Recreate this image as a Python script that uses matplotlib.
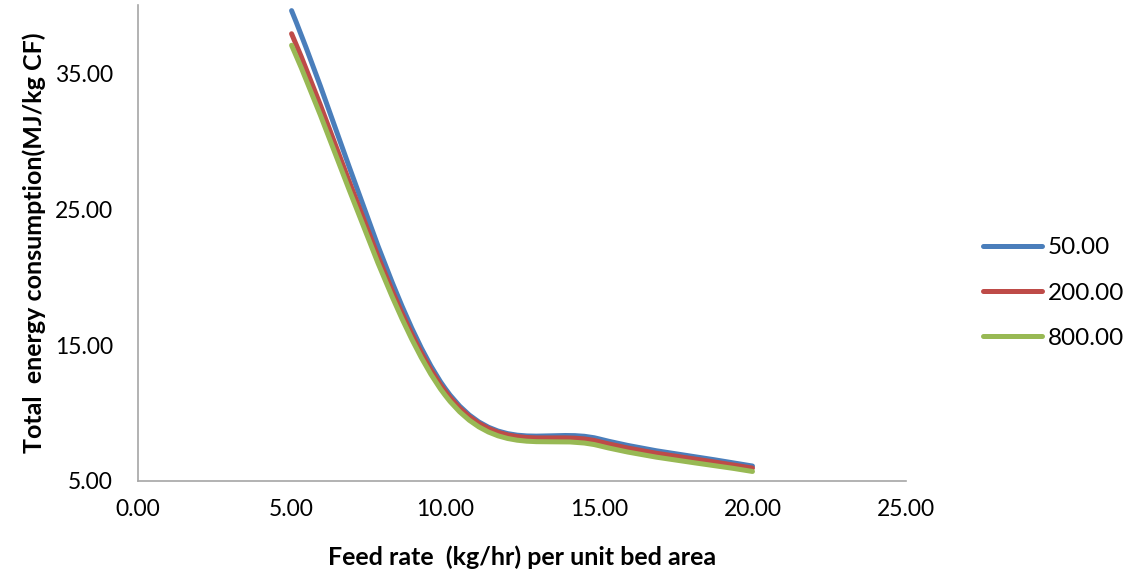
import matplotlib
matplotlib.use("Agg")
import matplotlib.pyplot as plt
from matplotlib.path import Path
from matplotlib.patches import PathPatch
import numpy as np

plt.rcParams['font.family'] = ['Lato', 'DejaVu Sans']

# data
feed_rate = [5.0, 10.0, 15.0, 20.0]
series_names = ["50.00", "200.00", "800.00"]
energy_50 = [39.6, 11.8, 8.1, 6.1]
energy_200 = [37.9, 11.6, 7.9, 5.95]
energy_800 = [37.05, 11.3, 7.6, 5.7]
colors = ["#4A7EBB", "#BE4B48", "#98B954"]

x_ticks = [0, 5, 10, 15, 20, 25]
y_ticks = [5, 15, 25, 35]


def smooth_path(xs, ys):
    # Excel style smoothed line: cubic bezier through the points
    p = np.column_stack([xs, ys]).astype(float)
    n = len(p)
    tang = np.zeros_like(p)
    tang[0] = p[1] - p[0]
    tang[-1] = p[-1] - p[-2]
    for i in range(1, n - 1):
        tang[i] = (p[i + 1] - p[i - 1]) / 2
    verts = [p[0]]
    codes = [Path.MOVETO]
    for i in range(n - 1):
        verts += [p[i] + tang[i] / 3, p[i + 1] - tang[i + 1] / 3, p[i + 1]]
        codes += [Path.CURVE4] * 3
    return Path(verts, codes)


fig = plt.figure(figsize=(11.27, 5.77), dpi=100)
ax = fig.add_axes([0.1224, 0.1664, 0.6816, 0.8246])

for vals, c, name in zip([energy_50, energy_200, energy_800], colors, series_names):
    patch = PathPatch(smooth_path(feed_rate, vals), facecolor="none", edgecolor=c,
                      lw=3.6, capstyle="round", joinstyle="round")
    ax.add_patch(patch)
    ax.plot([], [], color=c, lw=3.6, solid_capstyle="round", label=name)

ax.set_xlim(0, 25)
ax.set_ylim(5, 40)
ax.set_xticks(x_ticks)
ax.set_yticks(y_ticks)
ax.set_xticklabels([f"{v:.2f}" for v in x_ticks])
ax.set_yticklabels([f"{v:.2f}" for v in y_ticks])
ax.tick_params(axis="x", length=0, labelsize=16.5, pad=13, colors="#000000")
ax.tick_params(axis="y", length=0, labelsize=16.5, pad=18, colors="#000000")

for s in ["top", "right"]:
    ax.spines[s].set_visible(False)
for s in ["left", "bottom"]:
    ax.spines[s].set_color("#A6A6A6")
    ax.spines[s].set_linewidth(1.2)

ax.set_xlabel("Feed rate  (kg/hr) per unit bed area", fontsize=18, fontweight="bold", labelpad=18)
ax.set_ylabel("Total  energy consumption(MJ/kg CF)", fontsize=18, fontweight="bold", labelpad=6)

ax.legend(loc="center left", bbox_to_anchor=(0.853, 0.492), bbox_transform=fig.transFigure,
          frameon=False, fontsize=17.5, handlelength=2.4, handletextpad=0.25, labelspacing=1.0)

fig.savefig("out.png", dpi=100)
